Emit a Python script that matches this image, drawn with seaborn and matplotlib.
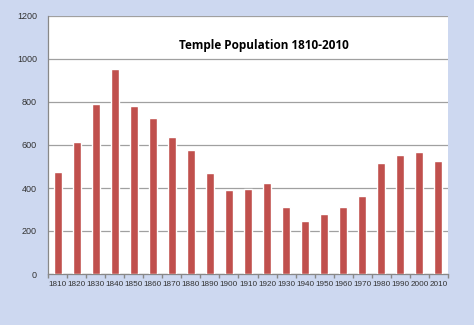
import matplotlib
matplotlib.use("Agg")
import matplotlib.pyplot as plt
import seaborn as sns
import pandas as pd
import numpy as np

years = ["1810", "1820", "1830", "1840", "1850", "1860", "1870", "1880", "1890", "1900",
         "1910", "1920", "1930", "1940", "1950", "1960", "1970", "1980", "1990", "2000", "2010"]
population = [476, 612, 792, 953, 783, 724, 639, 575, 468, 389,
              397, 422, 310, 248, 279, 310, 364, 515, 555, 567, 524]
y_ticks = [0, 200, 400, 600, 800, 1000, 1200]
title = "Temple Population 1810-2010"

sns.set_theme(style="white")
plt.rcParams['font.family'] = ['Liberation Sans', 'DejaVu Sans']

df = pd.DataFrame({"year": years, "population": population})

fig = plt.figure(figsize=(4.74, 3.25), dpi=100)
fig.patch.set_facecolor("#cdd8f0")
ax = fig.add_axes([48/474, (325-274)/325, 400/474, 258/325])
ax.set_facecolor("white")
ax.set_axisbelow(True)

sns.barplot(data=df, x="year", y="population", color="#c0504d", width=0.42,
            saturation=1, ax=ax, zorder=3)

ax.set_ylim(0, 1200)
ax.set_yticks(y_ticks)
ax.set_yticklabels([str(v) for v in y_ticks], fontsize=6.5, color="#333333")
ax.set_xlim(-0.5, len(years) - 0.5)
ax.tick_params(axis="x", labelsize=5.9, colors="#333333", length=0, pad=5)
ax.tick_params(axis="y", length=0, pad=8)
ax.set_xticks(np.arange(-0.5, len(years), 1.0), minor=True)
ax.tick_params(axis="x", which="minor", length=3, color="#888888", bottom=True)
ax.yaxis.grid(True, color="#a0a0a0", linewidth=0.9, zorder=0)
ax.set_xlabel("")
ax.set_ylabel("")
for s in ["top", "right"]:
    ax.spines[s].set_visible(False)
ax.spines["left"].set_color("#888888")
ax.spines["bottom"].set_color("#888888")
ax.spines["left"].set_linewidth(0.9)
ax.spines["bottom"].set_linewidth(0.9)

ax.text(0.54, 0.885, title, transform=ax.transAxes, ha="center", va="center",
        fontsize=8.5, fontweight="bold", color="black",
        family=['Open Sans', 'DejaVu Sans'])

fig.savefig("out.png", dpi=100, facecolor=fig.get_facecolor())
